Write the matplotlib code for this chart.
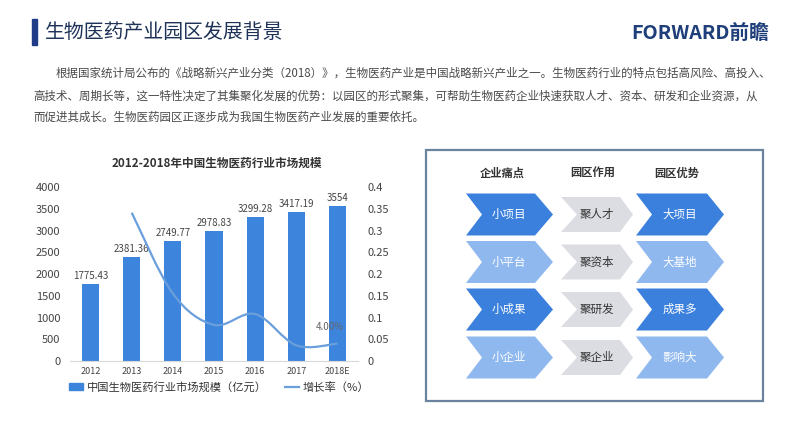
import matplotlib
matplotlib.use('Agg')
import matplotlib.pyplot as plt
import matplotlib.patches as patches
from matplotlib.path import Path
from matplotlib.lines import Line2D
import numpy as np

plt.rcParams['font.family'] = ['Noto Sans CJK SC', 'DejaVu Sans']

# chart data
years = ['2012', '2013', '2014', '2015', '2016', '2017', '2018E']
market_size = [1775.43, 2381.36, 2749.77, 2978.83, 3299.28, 3417.19, 3554]
growth_years = ['2013', '2014', '2015', '2016', '2017', '2018E']
growth_rate = [0.341, 0.155, 0.083, 0.108, 0.036, 0.040]
left_ticks = [0, 500, 1000, 1500, 2000, 2500, 3000, 3500, 4000]
right_ticks = [0, 0.05, 0.1, 0.15, 0.2, 0.25, 0.3, 0.35, 0.4]

# right panel text
column_titles = ['企业痛点', '园区作用', '园区优势']
pain_points = ['小项目', '小平台', '小成果', '小企业']
park_roles = ['聚人才', '聚资本', '聚研发', '聚企业']
park_advantages = ['大项目', '大基地', '成果多', '影响大']

title = '生物医药产业园区发展背景'
paragraph = [
    '根据国家统计局公布的《战略新兴产业分类（2018）》，生物医药产业是中国战略新兴产业之一。生物医药行业的特点包括高风险、高投入、',
    '高技术、周期长等，这一特性决定了其集聚化发展的优势：以园区的形式聚集，可帮助生物医药企业快速获取人才、资本、研发和企业资源，从',
    '而促进其成长。生物医药园区正逐步成为我国生物医药产业发展的重要依托。',
]

BAR_BLUE = '#3d84dd'
LINE_BLUE = '#6a9fdc'
DARK_CHEV = '#3b80dc'
LIGHT_CHEV = '#8fb8ef'
GRAY_CHEV = '#dcdde3'

fig = plt.figure(figsize=(8, 4.4), dpi=100)
fig.patch.set_facecolor('white')

# overlay in pixel coordinates for the page decoration
bg = fig.add_axes([0, 0, 1, 1])
bg.set_xlim(0, 800)
bg.set_ylim(440, 0)
bg.axis('off')

bg.add_patch(patches.Rectangle((32, 19), 4.5, 26, color='#1f3c88'))
bg.text(45, 32, title, fontsize=14.3, color='#1f3358', va='center', ha='left')
bg.text(769, 33, 'FORWARD前瞻', fontsize=14.2, color='#1f3f7a', fontweight='bold',
        va='center', ha='right')

line_y = [73, 96, 117]
line_x = [56, 33, 33]
for txt, x, y in zip(paragraph, line_x, line_y):
    bg.text(x, y, txt, fontsize=8.3, color='#4a4a4a', va='center', ha='left')

# chart title
bg.text(217, 163, '2012-2018年中国生物医药行业市场规模', fontsize=8.4,
        fontweight='bold', color='#333333', ha='center', va='center')

# ---------------- bar + line chart ----------------
ax = fig.add_axes([70 / 800, 1 - 361 / 440, 288 / 800, 174 / 440])
x = np.arange(len(years))
ax.bar(x, market_size, width=0.42, color=BAR_BLUE, zorder=2)
ax.set_xlim(-0.5, len(years) - 0.5)
ax.set_ylim(0, 4000)
ax.set_yticks(left_ticks)
ax.set_yticklabels([str(t) for t in left_ticks], fontsize=8, color='#444444')
ax.set_xticks(x)
ax.set_xticklabels(years, fontsize=6.5, color='#444444')
ax.tick_params(length=0, pad=4)
ax.tick_params(axis='y', pad=7)
for s in ['top', 'left', 'right']:
    ax.spines[s].set_visible(False)
ax.spines['bottom'].set_color('#d9d9d9')
for xi, v in zip(x, market_size):
    ax.text(xi, v + 70, f'{v:g}', ha='center', va='bottom', fontsize=7,
            color='#444444')

ax2 = ax.twinx()
ax2.set_ylim(0, 0.4)
ax2.set_yticks(right_ticks)
ax2.set_yticklabels(['0' if t == 0 else f'{t:g}' for t in right_ticks],
                    fontsize=8, color='#444444')
ax2.tick_params(length=0, pad=7)
for s in ['top', 'left', 'right', 'bottom']:
    ax2.spines[s].set_visible(False)

# smooth growth line with bezier segments through the data points
gx = [years.index(y) for y in growth_years]
pts = np.column_stack([gx, growth_rate]).astype(float)
ext = np.vstack([pts[0], pts, pts[-1]])
verts = [tuple(pts[0])]
codes = [Path.MOVETO]
for i in range(len(pts) - 1):
    p0, p1, p2, p3 = ext[i], ext[i + 1], ext[i + 2], ext[i + 3]
    c1 = p1 + (p2 - p0) / 6
    c2 = p2 - (p3 - p1) / 6
    verts += [tuple(c1), tuple(c2), tuple(p2)]
    codes += [Path.CURVE4] * 3
ax2.add_patch(patches.PathPatch(Path(verts, codes), fill=False,
                                edgecolor=LINE_BLUE, lw=1.6, zorder=3))
ax2.text(gx[-1] - 0.18, growth_rate[-1] + 0.038, f'{growth_rate[-1] * 100:.2f}%',
         ha='center', va='center', fontsize=7, color='#666666')

handles = [patches.Patch(color=BAR_BLUE), Line2D([0], [0], color=LINE_BLUE, lw=1.6)]
fig.legend(handles, ['中国生物医药行业市场规模（亿元）', '增长率（%）'],
           loc='center', bbox_to_anchor=(219 / 800, 1 - 387 / 440), ncol=2,
           frameon=False, fontsize=8.1, handlelength=1.3, handleheight=0.5,
           columnspacing=1.6, handletextpad=0.3, labelcolor='#333333')

# ---------------- right panel ----------------
bg.add_patch(patches.Rectangle((426, 150), 337, 251, fill=False,
                               edgecolor='#6a84a0', lw=1.6))


def chevron(x0, x1, yc, h, notch, tip, color):
    pts = [(x0, yc - h / 2), (x1 - tip, yc - h / 2), (x1, yc),
           (x1 - tip, yc + h / 2), (x0, yc + h / 2), (x0 + notch, yc)]
    bg.add_patch(patches.Polygon(pts, closed=True, color=color, lw=0))


col_specs = [
    # x0, x1, height, notch, tip, text x
    (466, 553, 42, 16, 18, 509),
    (561, 633, 35, 16, 13, 597),
    (636, 724, 42, 16, 17, 680),
]
row_y = [214.5, 262, 309.5, 357.5]
head_x = [502, 593, 677]

for hx, t in zip(head_x, column_titles):
    bg.text(hx, 173, t, fontsize=8.1, fontweight='bold', color='#333333',
            ha='center', va='center')

for r, yc in enumerate(row_y):
    blue = DARK_CHEV if r % 2 == 0 else LIGHT_CHEV
    labels = [pain_points[r], park_roles[r], park_advantages[r]]
    colors = [blue, GRAY_CHEV, blue]
    tcolors = ['white', '#333333', 'white']
    for (x0, x1, h, notch, tip, tx), lab, c, tc in zip(col_specs, labels, colors, tcolors):
        chevron(x0, x1, yc, h, notch, tip, c)
        bg.text(tx, yc, lab, fontsize=8.3, color=tc, ha='center', va='center')

fig.savefig('out.png', dpi=100, facecolor='white')
